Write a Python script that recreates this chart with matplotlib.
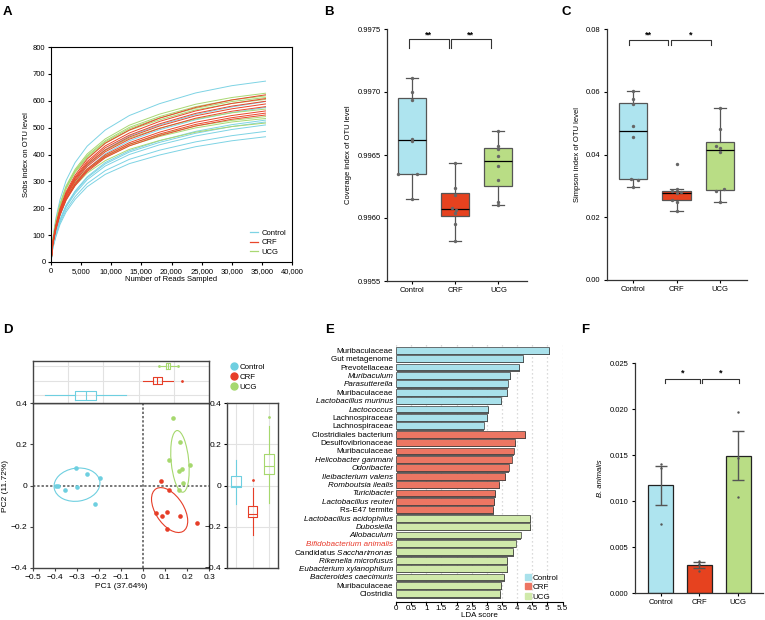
import numpy as np
import matplotlib
matplotlib.use('Agg')
import matplotlib.pyplot as plt
from matplotlib.patches import Ellipse
from matplotlib.lines import Line2D
import matplotlib.patheffects as pe

plt.rcParams['font.family'] = ['Liberation Sans', 'DejaVu Sans']
plt.rcParams['font.size'] = 5.5
plt.rcParams['mathtext.fontset'] = 'custom'
plt.rcParams['mathtext.it'] = 'Liberation Sans:italic'
plt.rcParams['mathtext.rm'] = 'Liberation Sans'
plt.rcParams['xtick.major.size'] = 2.5
plt.rcParams['ytick.major.size'] = 2.5
plt.rcParams['xtick.major.width'] = 0.8
plt.rcParams['ytick.major.width'] = 0.8

groups = ['Control', 'CRF', 'UCG']

# ---- A: rarefaction curves (Sobs at sampled read depths) ----
depths = [0, 300, 800, 1500, 2500, 4000, 6000, 9000, 13000, 18000, 24000, 30000, 35600]
sobs_control = [
    [0, 87, 162, 232, 303, 370, 431, 491, 545, 589, 629, 656, 673],
    [0, 66, 119, 179, 239, 299, 358, 418, 469, 510, 549, 577, 597],
    [0, 63, 115, 173, 230, 288, 345, 403, 451, 492, 529, 556, 575],
    [0, 58, 106, 158, 211, 264, 317, 370, 414, 451, 486, 511, 528],
    [0, 57, 104, 156, 208, 261, 313, 365, 409, 445, 479, 504, 521],
    [0, 56, 102, 153, 204, 255, 306, 357, 400, 436, 469, 493, 510],
    [0, 53, 97, 146, 194, 243, 292, 340, 382, 416, 447, 470, 486],
    [0, 51, 93, 140, 186, 233, 280, 326, 366, 398, 429, 451, 466],
]
sobs_crf = [
    [0, 75, 137, 199, 261, 323, 383, 442, 491, 535, 575, 603, 622],
    [0, 73, 134, 195, 255, 316, 374, 432, 480, 523, 562, 590, 608],
    [0, 72, 132, 191, 251, 311, 368, 425, 472, 514, 553, 580, 598],
    [0, 71, 129, 188, 247, 306, 362, 417, 465, 506, 544, 570, 588],
    [0, 69, 127, 185, 243, 301, 355, 410, 457, 497, 535, 561, 578],
    [0, 67, 124, 180, 236, 292, 346, 399, 444, 483, 520, 545, 562],
    [0, 66, 122, 177, 233, 288, 341, 393, 438, 476, 512, 537, 554],
    [0, 66, 120, 175, 230, 284, 336, 388, 432, 470, 506, 531, 547],
]
sobs_ucg = [
    [0, 82, 151, 217, 283, 345, 402, 458, 509, 550, 587, 612, 628],
    [0, 80, 148, 213, 278, 340, 396, 451, 501, 541, 578, 603, 618],
    [0, 80, 147, 211, 275, 337, 392, 447, 496, 536, 572, 597, 612],
    [0, 79, 145, 209, 272, 333, 387, 442, 490, 529, 566, 590, 605],
    [0, 74, 137, 196, 256, 313, 364, 415, 461, 498, 532, 555, 569],
    [0, 70, 130, 187, 243, 298, 346, 395, 438, 473, 506, 527, 541],
    [0, 69, 128, 184, 240, 294, 342, 390, 433, 467, 499, 521, 534],
    [0, 67, 124, 178, 233, 284, 331, 377, 419, 452, 483, 504, 517],
]

# ---- B: coverage index ----
cov_control = [0.99711, 0.99700, 0.99694, 0.99663, 0.99661, 0.99635, 0.99635, 0.99615]
cov_crf = [0.99644, 0.99624, 0.99618, 0.99608, 0.99606, 0.99604, 0.99595, 0.99582]
cov_ucg = [0.99669, 0.99657, 0.99655, 0.99649, 0.99641, 0.99630, 0.99613, 0.99610]

# ---- C: simpson index ----
simp_control = [0.0603, 0.0577, 0.0561, 0.0491, 0.0457, 0.0322, 0.0318, 0.0296]
simp_crf = [0.0370, 0.0290, 0.0283, 0.0279, 0.0276, 0.0255, 0.0250, 0.0220]
simp_ucg = [0.0547, 0.0480, 0.0428, 0.0420, 0.0409, 0.0289, 0.0284, 0.0250]

# ---- D: PCoA ----
pc1_control = [-0.394, -0.385, -0.353, -0.305, -0.300, -0.255, -0.220, -0.197]
pc2_control = [-0.003, -0.003, -0.024, 0.087, -0.008, 0.057, -0.092, 0.035]
pc1_crf = [0.084, 0.117, 0.061, 0.088, 0.109, 0.167, 0.109, 0.245]
pc2_crf = [0.021, -0.024, -0.132, -0.146, -0.127, -0.148, -0.209, -0.182]
pc1_ucg = [0.136, 0.170, 0.118, 0.215, 0.179, 0.162, 0.182, 0.162]
pc2_ucg = [0.327, 0.209, 0.126, 0.100, 0.079, 0.069, 0.014, -0.024]
# ellipses: center x, center y, width, height, angle
ell_control = [-0.300, 0.004, 0.21, 0.16, 10]
ell_crf = [0.121, -0.119, 0.24, 0.13, -60]
ell_ucg = [0.168, 0.117, 0.30, 0.08, 95]
# marginal boxplot stats: whislo, q1, med, q3, whishi
pc1_box = {
    'Control': [-0.447, -0.310, -0.260, -0.215, -0.079],
    'CRF': [0.000, 0.045, 0.064, 0.086, 0.136],
    'UCG': [0.082, 0.105, 0.114, 0.123, 0.150],
}
pc1_fliers = {'Control': [], 'CRF': [0.177], 'UCG': [0.073, 0.157]}
pc2_box = {
    'Control': [-0.090, -0.009, -0.003, 0.046, 0.124],
    'CRF': [-0.240, -0.155, -0.140, -0.098, -0.013],
    'UCG': [-0.084, 0.056, 0.094, 0.153, 0.288],
}
pc2_fliers = {'Control': [], 'CRF': [0.027], 'UCG': [0.332]}

# ---- E: LEfSe ----
lda_taxa = ['Muribaculaceae', 'Gut metagenome', 'Prevotellaceae', 'Muribaculum', 'Parasutterella',
            'Muribaculaceae', 'Lactobacillus murinus', 'Lactococcus', 'Lachnospiraceae', 'Lachnospiraceae',
            'Clostridiales bacterium', 'Desulfovibrionaceae', 'Muribaculaceae', 'Helicobacter ganmani',
            'Odoribacter', 'Ileibacterium valens', 'Romboutsia ilealis', 'Turicibacter',
            'Lactobacillus reuteri', 'Rs-E47 termite', 'Lactobacillus acidophilus', 'Dubosiella',
            'Allobaculum', 'Bifidobacterium animalis', r'Candidatus $\mathit{Saccharimonas}$',
            'Rikenella microfusus', 'Eubacterium xylanophilum', 'Bacteroides caecimuris',
            'Muribaculaceae', 'Clostridia']
lda_italic = [False, False, False, True, True, False, True, True, False, False,
              False, False, False, True, True, True, True, True, True, False,
              True, True, True, True, False, True, True, True, False, False]
lda_score = [5.07, 4.21, 4.07, 3.78, 3.69, 3.67, 3.48, 3.04, 3.01, 2.90,
             4.26, 3.94, 3.89, 3.82, 3.72, 3.61, 3.41, 3.28, 3.24, 3.22,
             4.44, 4.43, 4.12, 3.95, 3.88, 3.68, 3.68, 3.58, 3.48, 3.45]
lda_group = ['Control'] * 10 + ['CRF'] * 10 + ['UCG'] * 10

# ---- F: B. animalis ----
bani_control = [0.0140, 0.0136, 0.0075]
bani_crf = [0.0035, 0.0031, 0.0024]
bani_ucg = [0.0197, 0.0147, 0.0104]

# colours
line_cols = {'Control': '#7DD3E4', 'CRF': '#E8472B', 'UCG': '#A9D873'}
box_cols = {'Control': '#AEE4EF', 'CRF': '#E6421F', 'UCG': '#B9DD85'}
pc_cols = {'Control': '#6ECFE0', 'CRF': '#E63E28', 'UCG': '#A6D86E'}
lda_cols = {'Control': '#A9E1EB', 'CRF': '#EC7663', 'UCG': '#D0E9AA'}
W, H = 765, 620


def rect(l, t, r, b):
    return [l / W, 1 - b / H, (r - l) / W, (b - t) / H]


def minus_fmt(v, pos=None):
    if abs(v) < 1e-9:
        return '0'
    return f'{v:.1f}'.replace('-', '\u2212')


fig = plt.figure(figsize=(W / 100, H / 100), dpi=100)

for letter, (x, y) in zip('ABCDEF', [(3, 12), (324, 12), (562, 12), (3, 330), (325, 330), (581, 330)]):
    fig.text(x / W, 1 - y / H, letter, fontsize=9.5, fontweight='bold', va='center', ha='left')

# ---------------- A ----------------
axA = fig.add_axes(rect(51, 47, 292, 262))
for g, curves in zip(['Control', 'UCG', 'CRF'], [sobs_control, sobs_ucg, sobs_crf]):
    for c in curves:
        axA.plot(depths, c, color=line_cols[g], lw=0.7)
axA.set_xlim(0, 40000)
axA.set_ylim(0, 800)
axA.set_xticks(range(0, 40001, 5000))
axA.set_xticklabels([f'{v:,}' for v in range(0, 40001, 5000)])
axA.set_yticks(range(0, 801, 100))
axA.set_xlabel('Number of Reads Sampled', labelpad=1)
axA.set_ylabel('Sobs index on OTU level', labelpad=2)
for s in axA.spines.values():
    s.set_linewidth(0.8)
axA.tick_params(pad=1.5)
axA.legend([Line2D([], [], color=line_cols[g], lw=0.9) for g in groups], groups,
           loc='lower right', frameon=False, handlelength=1.0, handletextpad=0.4,
           labelspacing=0.3, borderaxespad=0.4, fontsize=5.5)


# ---------------- B & C ----------------
def box_panel(ax, data, jit, ylim, yticks, fmt, ylabel, brackets):
    bp = ax.boxplot(data, positions=[0, 1, 2], widths=0.65, patch_artist=True, showfliers=False,
                    medianprops=dict(color='black', lw=0.9),
                    boxprops=dict(edgecolor='#555555', lw=0.9),
                    whiskerprops=dict(color='#555555', lw=0.9),
                    capprops=dict(color='#555555', lw=0.9), capwidths=0.28)
    for patch, g in zip(bp['boxes'], groups):
        patch.set_facecolor(box_cols[g])
    for i, (d, j) in enumerate(zip(data, jit)):
        ax.scatter(np.array(j) + i, d, s=6, color='#666666', zorder=3, linewidths=0)
    for (x1, x2, y, dy, star) in brackets:
        ax.plot([x1, x1, x2, x2], [y - dy, y, y, y - dy], color='#333333', lw=0.8)
        ax.text((x1 + x2) / 2, y, star, ha='center', va='bottom', fontsize=6.5, fontweight='bold')
    ax.set_ylim(*ylim)
    ax.set_yticks(yticks)
    ax.set_yticklabels([fmt.format(v) for v in yticks])
    ax.set_xticks([0, 1, 2])
    ax.set_xticklabels(groups)
    ax.spines[['top', 'right']].set_visible(False)
    for s in ['left', 'bottom']:
        ax.spines[s].set_linewidth(0.9)
        ax.spines[s].set_color('#333333')
    ax.set_ylabel(ylabel, labelpad=4)
    ax.tick_params(pad=2)


axB = fig.add_axes(rect(387, 29, 527, 281))
axB.set_xlim(-0.57, 2.66)
box_panel(axB, [cov_control, cov_crf, cov_ucg],
          [[0, 0, 0, 0, 0, -0.32, 0.13, 0], [0, 0, 0, -0.08, 0.03, 0, 0, 0], [0] * 8],
          (0.9955, 0.9975), [0.9955, 0.9960, 0.9965, 0.9970, 0.9975], '{:.4f}',
          'Coverage index of OTU level',
          [(-0.07, 0.85, 0.99742, 0.00007, '**'), (0.9, 1.82, 0.99742, 0.00007, '**')])

axC = fig.add_axes(rect(607, 29, 747, 280))
axC.set_xlim(-0.6, 2.62)
box_panel(axC, [simp_control, simp_crf, simp_ucg],
          [[0, 0, 0, 0, 0, -0.05, 0.12, 0], [0, 0, -0.1, 0.1, 0, -0.1, 0, 0],
           [0, 0, -0.1, 0, 0, 0.1, -0.1, 0]],
          (0, 0.08), [0, 0.02, 0.04, 0.06, 0.08], '{:.2f}',
          'Simpson index of OTU level',
          [(-0.09, 0.8, 0.0765, 0.0017, '**'), (0.87, 1.79, 0.0765, 0.0017, '*')])

# ---------------- D ----------------
axD = fig.add_axes(rect(33, 403, 209, 568))
pcs = {'Control': (pc1_control, pc2_control, ell_control),
       'CRF': (pc1_crf, pc2_crf, ell_crf),
       'UCG': (pc1_ucg, pc2_ucg, ell_ucg)}
axD.axhline(0, color='#777777', lw=1.4, ls=(0, (1.2, 1.0)), zorder=1)
axD.axvline(0, color='#777777', lw=1.4, ls=(0, (1.2, 1.0)), zorder=1)
for g in groups:
    x, y, e = pcs[g]
    axD.scatter(x, y, s=11, color=pc_cols[g], linewidths=0, zorder=3, label=g)
    axD.add_patch(Ellipse((e[0], e[1]), e[2], e[3], angle=e[4], fill=False,
                          edgecolor=pc_cols[g], lw=0.8, zorder=2))
axD.set_xlim(-0.5, 0.3)
axD.set_ylim(-0.4, 0.4)
axD.set_xticks(np.round(np.arange(-0.5, 0.31, 0.1), 1))
axD.set_yticks([-0.4, -0.2, 0, 0.2, 0.4])
axD.xaxis.set_major_formatter(minus_fmt)
axD.yaxis.set_major_formatter(minus_fmt)
axD.set_xlabel('PC1 (37.64%)', fontsize=6, labelpad=2)
axD.set_ylabel('PC2 (11.72%)', fontsize=6, labelpad=1)
axD.tick_params(labelsize=6, pad=1.5, color='#444444')
for s in axD.spines.values():
    s.set_color('#444444')
    s.set_linewidth(1.0)
axD.spines['top'].set_color('black')

# top marginal boxplots (PC1)
axT = fig.add_axes(rect(33, 361, 209, 403))
statsT = [dict(whislo=pc1_box[g][0], q1=pc1_box[g][1], med=pc1_box[g][2], q3=pc1_box[g][3],
               whishi=pc1_box[g][4], fliers=pc1_fliers[g]) for g in groups]
for i, g in enumerate(groups):
    axT.bxp([statsT[i]], positions=[i + 1], widths=[0.62, 0.5, 0.42][i], orientation='horizontal',
            showcaps=False,
            boxprops=dict(color=pc_cols[g], lw=0.8), whiskerprops=dict(color=pc_cols[g], lw=0.8),
            medianprops=dict(color=pc_cols[g], lw=0.8),
            flierprops=dict(marker='.', markersize=2, markerfacecolor=pc_cols[g],
                            markeredgecolor=pc_cols[g]))
axT.set_xlim(-0.5, 0.3)
axT.set_ylim(0.45, 3.35)
axT.set_xticks([-0.34, -0.18, -0.02, 0.14])
axT.set_yticks([1, 2, 3])
axT.grid(True, color='#e2e2e2', lw=0.8)
axT.set_axisbelow(True)
axT.tick_params(left=False, bottom=False, labelleft=False, labelbottom=False)
for s in axT.spines.values():
    s.set_color('#444444')
    s.set_linewidth(1.0)

# right marginal boxplots (PC2)
axR = fig.add_axes(rect(227, 403, 278, 568))
for i, g in enumerate(groups):
    st = dict(whislo=pc2_box[g][0], q1=pc2_box[g][1], med=pc2_box[g][2], q3=pc2_box[g][3],
              whishi=pc2_box[g][4], fliers=pc2_fliers[g])
    axR.bxp([st], positions=[i + 1], widths=0.6, showcaps=False,
            boxprops=dict(color=pc_cols[g], lw=0.8), whiskerprops=dict(color=pc_cols[g], lw=0.8),
            medianprops=dict(color=pc_cols[g], lw=0.8),
            flierprops=dict(marker='.', markersize=2, markerfacecolor=pc_cols[g],
                            markeredgecolor=pc_cols[g]))
axR.set_xlim(0.45, 3.55)
axR.set_ylim(-0.4, 0.4)
axR.set_yticks([-0.4, -0.2, 0, 0.2, 0.4])
axR.yaxis.set_major_formatter(minus_fmt)
axR.set_xticks([1, 2, 3])
axR.grid(True, color='#e2e2e2', lw=0.8)
axR.set_axisbelow(True)
axR.tick_params(bottom=False, labelbottom=False, labelsize=6, pad=1.5)
for s in axR.spines.values():
    s.set_color('#444444')
    s.set_linewidth(1.0)

fig.legend([Line2D([], [], marker='o', ls='', color=pc_cols[g], markersize=5) for g in groups],
           groups, loc='upper left', bbox_to_anchor=(229 / W, 1 - 363 / H), frameon=False,
           fontsize=5.7, handletextpad=0.1, labelspacing=0.35, borderaxespad=0, borderpad=0,
           handlelength=1.2)

# ---------------- E ----------------
axE = fig.add_axes(rect(396, 344, 562.5, 602))
ypos = np.arange(len(lda_score))
bars = axE.barh(ypos, lda_score, height=0.8, color=[lda_cols[g] for g in lda_group],
                edgecolor='#3a3a3a', lw=0.5, zorder=2)
for b in bars:
    b.set_path_effects([pe.SimplePatchShadow(offset=(0.5, -1.0), shadow_rgbFace='#5a5a5a', alpha=1.0),
                        pe.Normal()])
axE.set_ylim(29.98, -0.74)
axE.set_xlim(0, 5.5)
xt = np.arange(0, 5.51, 0.5)
axE.set_xticks(xt)
axE.set_xticklabels([f'{v:g}' for v in xt])
axE.set_yticks(ypos)
axE.set_yticklabels(lda_taxa, fontsize=5.8)
for lab, it in zip(axE.get_yticklabels(), lda_italic):
    if it:
        lab.set_fontstyle('italic')
    if lab.get_text().startswith('Bifidobacterium'):
        lab.set_color('#E8392A')
axE.tick_params(axis='y', length=0, pad=2)
axE.tick_params(axis='x', pad=0.5, labelsize=5.8, length=2)
axE.xaxis.grid(True, color='#cfcfcf', lw=0.9, ls=(0, (1, 2.2)))
axE.set_axisbelow(True)
for s in ['top', 'right', 'left']:
    axE.spines[s].set_visible(False)
axE.spines['bottom'].set_linewidth(0.8)
axE.set_xlabel('LDA score', labelpad=-0.5, fontsize=5.8)
axE.legend([Line2D([], [], marker='s', ls='', color=lda_cols[g], markersize=4) for g in groups],
           groups, loc='lower right', frameon=False, fontsize=5.8, handletextpad=0.1,
           labelspacing=0.2, borderaxespad=0.1, handlelength=1.0, bbox_to_anchor=(1.0, -0.01))

# ---------------- F ----------------
axF = fig.add_axes(rect(635, 363, 763, 593))
bani = [bani_control, bani_crf, bani_ucg]
means = [np.mean(v) for v in bani]
sems = [np.std(v, ddof=1) / np.sqrt(len(v)) for v in bani]
axF.bar([0, 1, 2], means, width=0.65, color=[box_cols[g] for g in groups], edgecolor='#222222',
        lw=0.9, zorder=2)
axF.errorbar([0, 1, 2], means, yerr=sems, fmt='none', ecolor='#555555', elinewidth=1.0,
             capsize=4, capthick=1.0, zorder=3)
for i, v in enumerate(bani):
    axF.scatter([i] * len(v), v, s=3, color='#555555', zorder=4, linewidths=0)
for (x1, x2) in [(0.11, 1.01), (1.08, 2.02)]:
    y, dy = 0.0233, 0.0005
    axF.plot([x1, x1, x2, x2], [y - dy, y, y, y - dy], color='#333333', lw=0.8)
    axF.text((x1 + x2) / 2, y + 0.0001, '*', ha='center', va='bottom', fontsize=6.5, fontweight='bold')
axF.set_xlim(-0.66, 2.64)
axF.set_ylim(0, 0.025)
yt = [0, 0.005, 0.010, 0.015, 0.020, 0.025]
axF.set_yticks(yt)
axF.set_yticklabels([f'{v:.3f}' for v in yt])
axF.set_xticks([0, 1, 2])
axF.set_xticklabels(groups)
axF.spines[['top', 'right']].set_visible(False)
for s in ['left', 'bottom']:
    axF.spines[s].set_linewidth(0.9)
    axF.spines[s].set_color('#333333')
axF.set_ylabel('B. animalis', fontstyle='italic', labelpad=4)
axF.tick_params(pad=2)

fig.savefig('out.png', dpi=100)
